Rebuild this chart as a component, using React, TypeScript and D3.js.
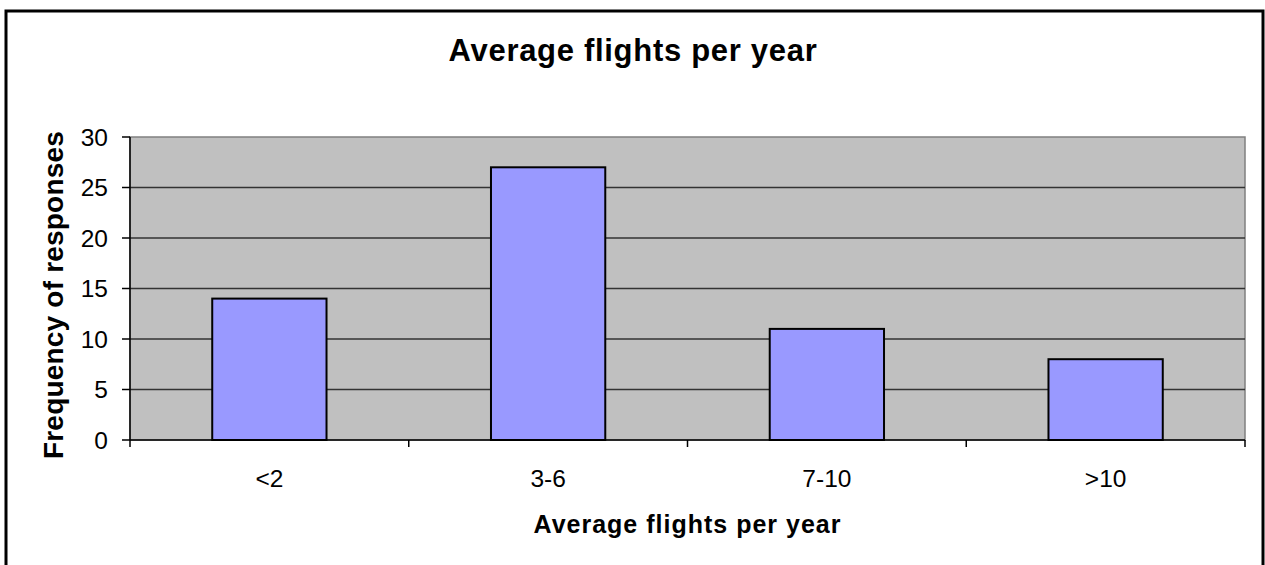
import React from "react";
import * as d3 from "d3";

const categories = ["<2", "3-6", "7-10", ">10"];
const values = [14, 27, 11, 8];
const yTicks = [0, 5, 10, 15, 20, 25, 30];
const title = "Average flights per year";
const xLabel = "Average flights per year";
const yLabel = "Frequency of responses";

export default function App() {
  const W = 1265, H = 565;
  const left = 130, right = 1245, top = 137, bottom = 440;
  const x = d3.scaleBand<string>().domain(categories).range([left, right]).paddingInner(0).paddingOuter(0);
  const y = d3.scaleLinear().domain([0, 30]).range([bottom, top]);
  const bw = x.bandwidth();
  const barW = bw * 0.41;
  const font = "Arial, 'Liberation Sans', sans-serif";
  const boundaries = [left, ...categories.map((c) => (x(c) as number) + bw)];
  return (
    <svg width={W} height={H} style={{ position: "absolute", left: 0, top: 0 }}>
      <rect x={0} y={0} width={W} height={H} fill="#fff" />
      <rect x={6} y={11} width={1257} height={H + 20} fill="none" stroke="#000" strokeWidth={3} />
      <text x={633} y={61} textAnchor="middle" fontFamily={font} fontWeight="bold" fontSize={31} letterSpacing={0.7}>{title}</text>
      <rect x={left} y={top} width={right - left} height={bottom - top} fill="#c0c0c0" stroke="#808080" strokeWidth={1.5} />
      {yTicks.filter((t) => t > 0 && t < 30).map((t) => (
        <line key={t} x1={left} x2={right} y1={y(t)} y2={y(t)} stroke="#333" strokeWidth={1.5} />
      ))}
      {values.map((v, i) => {
        const cx = (x(categories[i]) as number) + bw / 2;
        return (
          <rect key={i} x={cx - barW / 2} y={y(v)} width={barW} height={bottom - y(v)} fill="#9999ff" stroke="#000" strokeWidth={2} />
        );
      })}
      <line x1={left} x2={left} y1={top} y2={bottom} stroke="#000" strokeWidth={1.5} />
      <line x1={left} x2={right} y1={bottom} y2={bottom} stroke="#000" strokeWidth={1.5} />
      {yTicks.map((t) => (
        <g key={t}>
          <line x1={left - 8} x2={left} y1={y(t)} y2={y(t)} stroke="#000" strokeWidth={1.5} />
          <text x={108} y={y(t) + 8.5} textAnchor="end" fontFamily={font} fontSize={24.5}>{t}</text>
        </g>
      ))}
      {boundaries.map((b, i) => (
        <line key={i} x1={b} x2={b} y1={bottom} y2={bottom + 7} stroke="#000" strokeWidth={1.5} />
      ))}
      {categories.map((c) => (
        <text key={c} x={(x(c) as number) + bw / 2} y={487} textAnchor="middle" fontFamily={font} fontSize={24.5}>{c}</text>
      ))}
      <text x={(left + right) / 2} y={533} textAnchor="middle" fontFamily={font} fontWeight="bold" fontSize={25} letterSpacing={1}>{xLabel}</text>
      <text transform={`translate(63, 295) rotate(-90)`} textAnchor="middle" fontFamily={font} fontWeight="bold" fontSize={28} letterSpacing={0.2}>{yLabel}</text>
    </svg>
  );
}
